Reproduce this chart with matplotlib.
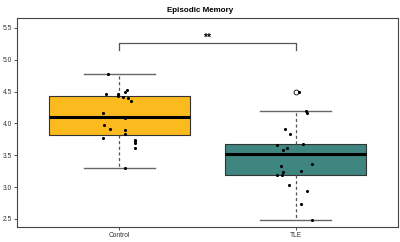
import matplotlib
matplotlib.use('Agg')
import matplotlib.pyplot as plt

plt.rcParams['font.family'] = ['Liberation Sans', 'DejaVu Sans']

# ── Data ──────────────────────────────────────────────────────────────────────
groups = ['Control', 'TLE']
box_colors = ['#FBBA1E', '#3F8580']

# box statistics: whislo, q1, med, q3, whishi
q1 = [3.82, 3.19]
med = [4.10, 3.525]
q3 = [4.43, 3.67]
whislo = [3.30, 2.48]
whishi = [4.776, 4.20]
outliers = [[], [4.50]]

# jittered points (offset from group centre, value)
ctrl_jit = [-0.065, -0.075, -0.01, -0.005, 0.035, 0.045, 0.02, 0.05, 0.065,
            -0.095, 0.035, -0.085, -0.055, 0.035, 0.035, -0.09, 0.09, 0.09,
            0.09, 0.09, 0.03]
ctrl_val = [4.776, 4.46, 4.43, 4.46, 4.49, 4.53, 4.41, 4.40, 4.35,
            4.16, 4.08, 3.975, 3.92, 3.89, 3.83, 3.77, 3.74, 3.72,
            3.70, 3.61, 3.30]
tle_jit = [0.02, 0.06, 0.065, -0.06, -0.03, 0.04, -0.105, -0.05, -0.07,
           0.095, -0.085, -0.07, 0.03, -0.105, -0.075, -0.04, 0.065, 0.03,
           0.09]
tle_val = [4.50, 4.19, 4.17, 3.92, 3.83, 3.675, 3.66, 3.62, 3.59,
           3.37, 3.34, 3.24, 3.25, 3.19, 3.19, 3.03, 2.94, 2.73,
           2.48]

yticks = [2.5, 3.0, 3.5, 4.0, 4.5, 5.0, 5.5]
sig_label = '**'
sig_y = [5.15, 5.27]

# ── Plot ──────────────────────────────────────────────────────────────────────
fig = plt.figure(figsize=(4, 2.42), dpi=100)
ax = fig.add_axes([0.0425, 0.062, 0.9525, 0.8636])

stats = []
for i in range(len(groups)):
    stats.append({'label': groups[i], 'q1': q1[i], 'med': med[i], 'q3': q3[i],
                  'whislo': whislo[i], 'whishi': whishi[i], 'fliers': outliers[i]})

bp = ax.bxp(stats, positions=[1, 2], widths=0.8, patch_artist=True,
            showfliers=True,
            boxprops=dict(edgecolor='#333333', linewidth=0.8),
            medianprops=dict(color='black', linewidth=2.2),
            whiskerprops=dict(color='#555555', linewidth=0.9, linestyle=(0, (2.5, 2))),
            capprops=dict(color='#666666', linewidth=1.0),
            flierprops=dict(marker='o', markerfacecolor='white', markeredgecolor='black',
                            markersize=3.5, markeredgewidth=0.6))
for patch, c in zip(bp['boxes'], box_colors):
    patch.set_facecolor(c)
for cap in bp['caps']:
    x0, x1 = cap.get_xdata()
    xc = (x0 + x1) / 2
    cap.set_xdata([xc - 0.2, xc + 0.2])

ax.scatter([1 + j for j in ctrl_jit], ctrl_val, s=5, color='black', zorder=5, linewidths=0)
ax.scatter([2 + j for j in tle_jit], tle_val, s=5, color='black', zorder=5, linewidths=0)

# significance bracket
ax.plot([1, 1, 2, 2], [sig_y[0], sig_y[1], sig_y[1], sig_y[0]], color='#555555', linewidth=0.9)
ax.text(1.5, sig_y[1] + 0.0, sig_label, ha='center', va='bottom', fontsize=7.5, fontweight='bold')

ax.set_xlim(0.42, 2.58)
ax.set_ylim(2.374, 5.657)
ax.set_yticks(yticks)
ax.set_yticklabels([f'{v:.1f}' for v in yticks])
ax.set_xticks([1, 2])
ax.set_xticklabels(groups)
ax.tick_params(axis='both', labelsize=4.8, length=2, width=0.6, pad=1.5, colors='#333333')
for sp in ax.spines.values():
    sp.set_color('#444444')
    sp.set_linewidth(0.8)

fig.text(0.5, 0.955, 'Episodic Memory', ha='center', va='center', fontsize=5.8, fontweight='bold')

plt.savefig('out.png', dpi=100)
